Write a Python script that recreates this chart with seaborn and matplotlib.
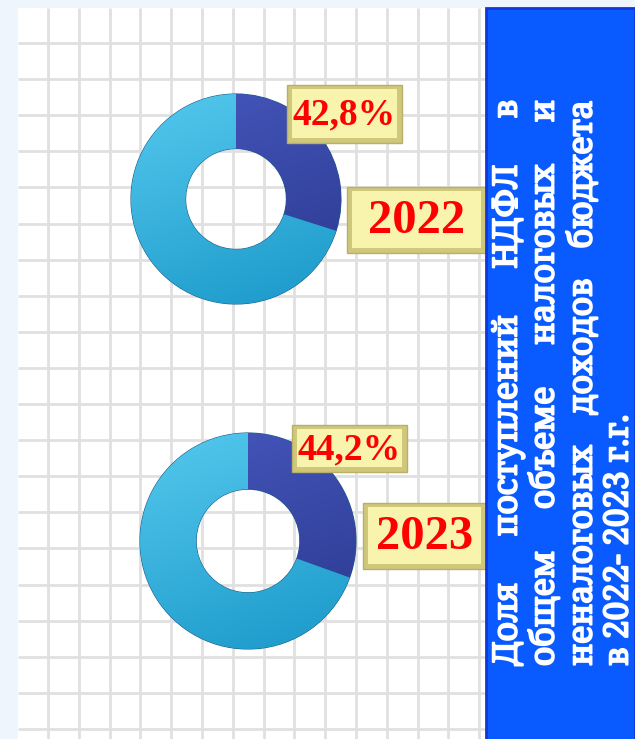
# %% Доля НДФЛ в налоговых и неналоговых доходах, 2022-2023
import matplotlib
matplotlib.use('Agg')
import matplotlib.pyplot as plt
import matplotlib.patheffects as pe
from matplotlib.colors import LinearSegmentedColormap
from matplotlib.patches import Rectangle
import seaborn as sns
import numpy as np

sns.set_theme(style='white')
plt.rcParams['font.family'] = ['DejaVu Sans']

# %% Data
years = ['2022', '2023']
pct_labels = ['42,8%', '44,2%']
# ring shares as drawn (dark segment / rest)
ring_2022 = [29.9, 70.1]
ring_2023 = [30.5, 69.5]
rings = [ring_2022, ring_2023]
title_lines = ['Доля поступлений НДФЛ в',
               'общем объеме налоговых и',
               'неналоговых доходов бюджета',
               'в 2022- 2023 г.г.']

# colours: (top, bottom) of each ring segment
dark_grad = ['#4455BA', '#2C3A90']
light_grad = ['#52C6EC', '#1D9BCB']
box_fill = '#F8F4AE'
box_edge = '#CFC77A'
panel_blue = '#0A5BFF'

W, H = 635, 739
fig = plt.figure(figsize=(W / 100, H / 100), dpi=100)

# %% Background + grid
bg = fig.add_axes([0, 0, 1, 1])
bg.set_xlim(0, W)
bg.set_ylim(H, 0)
bg.axis('off')
bg.add_patch(Rectangle((0, 0), W, H, color='#EEF5FC', zorder=0))
bg.add_patch(Rectangle((18, 8), 470, H, color='white', zorder=1))
gx = [48 + 30.8 * k for k in range(15)]
gy = [43 + 36.1 * k for k in range(20)]
bg.vlines(gx, 8, H, color='#E0E0E0', lw=2, zorder=2)
bg.hlines(gy, 18, 486, color='#E0E0E0', lw=2, zorder=2)

# %% Donuts
yy, xx = np.mgrid[-1:1:200j, -1:1:200j]
shade = np.clip((yy - 0.35 * xx + 1.2) / 2.4, 0, 1)
centers = [(236, 199, 105), (248, 541, 108)]
for (cx, cy, r), vals in zip(centers, rings):
    ax = fig.add_axes([(cx - r) / W, (H - cy - r) / H, 2 * r / W, 2 * r / H])
    wedges, _ = ax.pie(vals, colors=[dark_grad[1], light_grad[1]], startangle=90,
                       counterclock=False,
                       wedgeprops=dict(width=0.52, edgecolor='#1F5F8A', linewidth=0.8))
    for w, cols in zip(wedges, [dark_grad, light_grad]):
        cmap = LinearSegmentedColormap.from_list('g', [cols[1], cols[0]])
        im = ax.imshow(shade, extent=(-1, 1, -1, 1), origin='lower', cmap=cmap,
                       vmin=0, vmax=1, zorder=w.get_zorder() + 0.1)
        im.set_clip_path(w)
    ax.set_xlim(-1.0, 1.0)
    ax.set_ylim(-1.0, 1.0)
    ax.axis('off')

# %% Overlay: label boxes and side panel
ov = fig.add_axes([0, 0, 1, 1])
ov.set_xlim(0, W)
ov.set_ylim(H, 0)
ov.axis('off')
ov.patch.set_alpha(0)


def label_box(x0, y0, x1, y1, text, size):
    ov.add_patch(Rectangle((x0, y0), x1 - x0, y1 - y0, facecolor=box_edge,
                           edgecolor='#B8B068', lw=1, zorder=3))
    ov.add_patch(Rectangle((x0 + 5, y0 + 4), x1 - x0 - 10, y1 - y0 - 9,
                           facecolor=box_fill, edgecolor='none', zorder=4))
    ov.text((x0 + x1) / 2, (y0 + y1) / 2 + 1, text, ha='center', va='center',
            color='red', fontsize=size, fontweight='bold',
            family='Liberation Serif', zorder=5)


pct_boxes = [(287, 85, 402, 143), (292, 425, 407, 472)]
year_boxes = [(347, 187, 486, 253), (363, 503, 486, 569)]
for b, t in zip(pct_boxes, pct_labels):
    label_box(*b, t, 27)
for b, t in zip(year_boxes, years):
    label_box(*b, t, 35)

ov.add_patch(Rectangle((486, 8), W - 486, H, facecolor=panel_blue,
                       edgecolor='#1535D8', lw=2, zorder=6))

# justified vertical text
line_x = [508, 545, 583, 619]
y_bot, y_top = 666, 100
renderer = fig.canvas.get_renderer()
style = dict(rotation=90, ha='center', va='bottom', color='white',
             fontsize=20, fontweight='bold', family=['Noto Serif', 'DejaVu Serif'],
             fontstretch='condensed', zorder=7,
             path_effects=[pe.withStroke(linewidth=1.4, foreground='white')])

# fit the font size so the third line keeps ~30 px between words
probes = [ov.text(0, 0, w, **style) for w in title_lines[2].split()]
words_len = sum(p.get_window_extent(renderer).height for p in probes)
style['fontsize'] = 20 * (y_bot - y_top - 60) / words_len
for p in probes:
    p.remove()

for i, line in enumerate(title_lines):
    if i == len(title_lines) - 1:
        ov.text(line_x[i], y_bot, line, **style)
        continue
    words = line.split()
    texts = [ov.text(line_x[i], y_bot, w, **style) for w in words]
    widths = [t.get_window_extent(renderer).height for t in texts]
    gap = (y_bot - y_top - sum(widths)) / (len(words) - 1)
    y = y_bot
    for t, w in zip(texts, widths):
        t.set_y(y)
        y -= w + gap

fig.savefig('out.png', dpi=100)
